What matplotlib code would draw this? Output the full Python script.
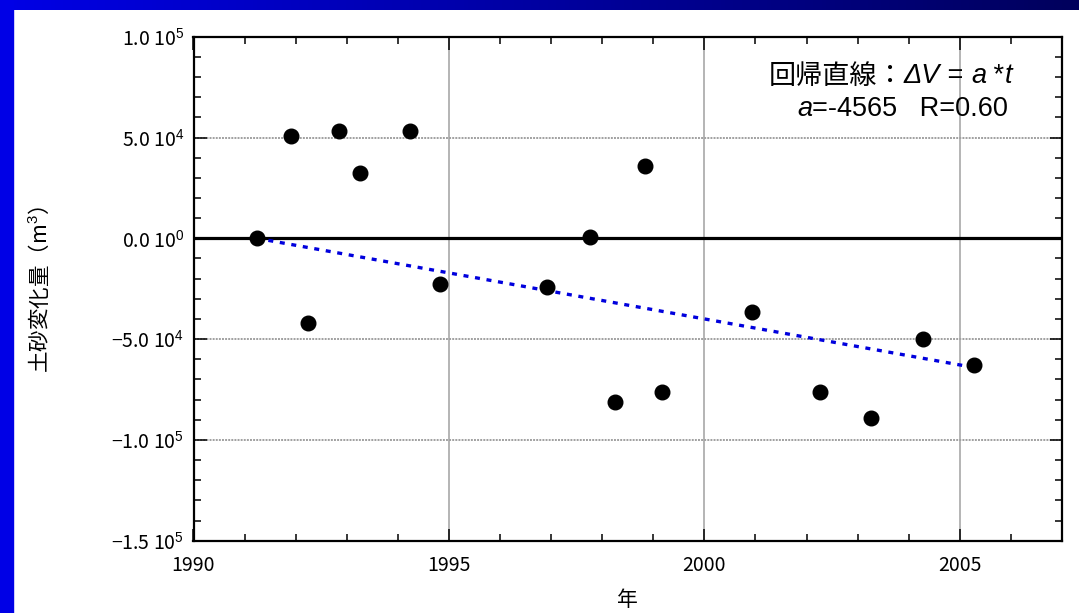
import numpy as np
import matplotlib
matplotlib.use("Agg")
import matplotlib.pyplot as plt
from matplotlib.patches import Rectangle
from matplotlib.colors import LinearSegmentedColormap
from matplotlib.ticker import MultipleLocator, FuncFormatter

plt.rcParams["font.family"] = ["Noto Sans CJK JP", "DejaVu Sans"]
plt.rcParams["mathtext.fontset"] = "custom"
plt.rcParams["mathtext.rm"] = "Liberation Sans"
plt.rcParams["mathtext.it"] = "Liberation Sans:italic"
plt.rcParams["mathtext.bf"] = "Liberation Sans:bold"

# survey dates (decimal year) and sediment volume change (m3)
years = [1991.24, 1991.91, 1992.24, 1992.84, 1993.25, 1994.24, 1994.82,
         1996.92, 1997.76, 1998.26, 1998.84, 1999.17, 2000.93, 2002.27,
         2003.27, 2004.27, 2005.27]
volume = [0, 50900, -41900, 53200, 32200, 53200, -22700,
          -24300, 500, -81000, 35700, -76400, -36700, -76400,
          -89300, -49800, -62800]

# regression through the first survey: dV = a * t
slope_a = -4565
corr_r = 0.60
fit_start = 1991.24
fit_end = 2005.05

y_ticks = [1e5, 5e4, 0, -5e4, -1e5, -1.5e5]


def sci_label(v, pos=None):
    if v == 0:
        return "0.0 10$^{0}$"
    exp = int(np.floor(np.log10(abs(v))))
    mant = v / 10 ** exp
    return f"{mant:.1f}".replace("-", "\u2212") + f" 10$^{{{exp}}}$"


W, H = 1079, 613
fig = plt.figure(figsize=(W / 100, H / 100), dpi=100)
renderer = fig.canvas.get_renderer()


def text_runs(right_px, y_px, runs, size=19.5):
    """Write a line made of differently styled pieces, right aligned."""
    x = 0.0
    pieces = []
    for s, family, style in runs:
        t = fig.text(x / W, 1 - y_px / H, s, family=family, style=style,
                     fontsize=size, ha="left", va="center")
        pieces.append((t, x))
        x = t.get_window_extent(renderer).x1
    shift = right_px - x
    for t, x0 in pieces:
        t.set_x((x0 + shift) / W)


# slide frame: gradient bar on top, solid strip on the left
bar = fig.add_axes([0, 1 - 10 / H, 1, 10 / H])
grad = np.linspace(0, 1, 256)[None, :]
bar_cmap = LinearSegmentedColormap.from_list("bar", ["#0000e6", "#00005c"])
bar.imshow(grad, aspect="auto", cmap=bar_cmap, extent=[0, 1, 0, 1])
bar.set_axis_off()
fig.patches.append(Rectangle((0, 0), 13 / W, 1, transform=fig.transFigure,
                             color="#0000e6", zorder=0))

ax = fig.add_axes([193.5 / W, 1 - 540.7 / H, 868.5 / W, 504 / H])
ax.set_xlim(1990, 2007)
ax.set_ylim(-1.5e5, 1e5)

ax.xaxis.set_major_locator(MultipleLocator(5))
ax.xaxis.set_minor_locator(MultipleLocator(1))
ax.set_yticks(y_ticks)
ax.yaxis.set_minor_locator(MultipleLocator(1e4))
ax.yaxis.set_major_formatter(FuncFormatter(sci_label))

ax.tick_params(which="both", direction="in", top=True, right=True,
               labelsize=14, width=1.1)
ax.tick_params(which="major", length=9)
ax.tick_params(which="minor", length=5)
ax.tick_params(axis="x", pad=10)
ax.tick_params(axis="y", pad=7)
for sp in ax.spines.values():
    sp.set_linewidth(1.6)

ax.grid(True, axis="x", which="major", color="#b4b4b4", lw=1.4)
ax.grid(True, axis="y", which="major", color="#a0a0a0", lw=1.4,
        linestyle=(0, (1, 0.6)))
ax.set_axisbelow(True)

ax.axhline(0, color="black", lw=2.3, zorder=2)

fit_x = np.array([fit_start, fit_end])
ax.plot(fit_x, slope_a * (fit_x - fit_start), color="#0000dd", lw=2.4,
        linestyle=(0, (1.5, 2.0)), zorder=3)
ax.plot(years, volume, "o", color="black", ms=10.5, zorder=4)

# regression caption
LS = "Liberation Sans"
CJK = "Noto Sans CJK JP"
text_runs(1012, 76, [("回帰直線：", CJK, "normal"),
                     ("ΔV", LS, "italic"), (" = ", LS, "normal"),
                     ("a", LS, "italic"), (" *", LS, "normal"),
                     ("t", LS, "italic")])
text_runs(1008, 109, [("a", LS, "italic"),
                      (f"={slope_a}   R={corr_r:.2f}", LS, "normal")])

fig.text(40 / W, 1 - 290 / H, "土砂変化量（m$^3$）", rotation=90,
         fontsize=15.5, ha="center", va="center")
fig.text(627 / W, 1 - 600 / H, "年", fontsize=15, ha="center", va="center")

fig.savefig("out.png", dpi=100)
